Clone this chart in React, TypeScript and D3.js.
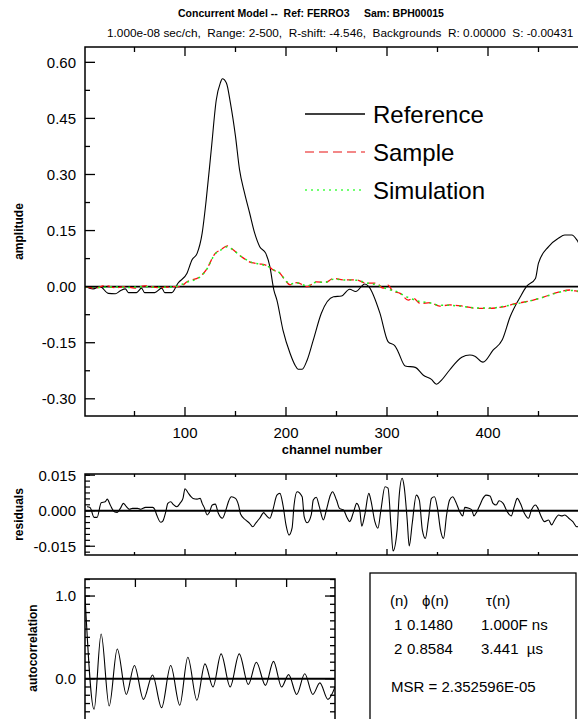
import React from "react";
import * as d3 from "d3";

// ---------- DATA ----------
const refChannels = [2, 9, 16, 24, 31, 36, 41, 44, 52, 57, 60, 70, 77, 80, 87, 93, 102, 107, 112, 117, 121, 126, 131, 135, 137, 141, 145, 150, 154, 159, 164, 169, 174, 180, 184, 188, 191, 197, 204, 209, 212, 216, 221, 227, 235, 247, 255, 263, 269, 278, 282, 293, 301, 308, 311, 318, 328, 336, 344, 349, 354, 362, 374, 382, 387, 395, 405, 414, 422, 432, 438, 447, 450, 460, 470, 476, 483, 488, 493, 500];
const refValues = [0, -0.006, 0, -0.018, -0.019, -0.011, -0.006, -0.016, -0.016, -0.004, -0.016, -0.016, -0.004, -0.016, -0.016, 0.009, 0.036, 0.072, 0.089, 0.143, 0.232, 0.366, 0.5, 0.545, 0.556, 0.545, 0.491, 0.402, 0.313, 0.25, 0.197, 0.143, 0.107, 0.089, 0.054, -0.009, -0.036, -0.116, -0.178, -0.21, -0.221, -0.221, -0.196, -0.143, -0.071, -0.027, -0.025, -0.007, -0.013, 0.007, 0, -0.071, -0.147, -0.159, -0.174, -0.212, -0.216, -0.237, -0.248, -0.261, -0.25, -0.223, -0.189, -0.183, -0.186, -0.202, -0.17, -0.143, -0.08, -0.027, 0, 0.022, 0.063, 0.107, 0.13, 0.138, 0.138, 0.125, 0.1, 0.07];

const samChannels = [2, 11, 21, 31, 41, 50, 60, 75, 90, 95, 102, 115, 121, 130, 135, 142, 148, 156, 166, 174, 183, 187, 194, 199, 204, 211, 221, 230, 239, 247, 257, 270, 278, 290, 296, 301, 306, 313, 321, 326, 333, 343, 352, 362, 375, 389, 402, 415, 428, 442, 455, 468, 481, 489, 500];
const samValues = [0, -0.004, 0.003, -0.003, 0, -0.004, 0.002, -0.003, 0, 0, 0.013, 0.027, 0.045, 0.089, 0.098, 0.109, 0.098, 0.08, 0.064, 0.061, 0.054, 0.045, 0.036, 0.018, 0.005, 0.011, 0, 0.013, 0.011, 0.022, 0.018, 0.018, 0.01, 0.009, -0.004, 0.004, -0.013, -0.018, -0.036, -0.031, -0.045, -0.043, -0.052, -0.049, -0.052, -0.058, -0.058, -0.054, -0.045, -0.038, -0.028, -0.016, -0.009, -0.013, -0.02];

const simChannels = [2, 15, 30, 45, 60, 75, 90, 102, 115, 121, 130, 135, 142, 148, 156, 166, 174, 183, 187, 194, 199, 204, 211, 221, 230, 239, 247, 257, 270, 280, 290, 300, 310, 320, 330, 343, 352, 362, 375, 389, 402, 415, 428, 442, 455, 468, 481, 489, 500];
const simValues = [0, -0.002, -0.001, -0.002, 0, -0.002, 0, 0.012, 0.026, 0.044, 0.088, 0.097, 0.107, 0.097, 0.08, 0.065, 0.06, 0.053, 0.046, 0.036, 0.019, 0.007, 0.01, 0.002, 0.012, 0.012, 0.02, 0.018, 0.017, 0.01, 0.005, -0.006, -0.014, -0.028, -0.038, -0.044, -0.05, -0.05, -0.053, -0.057, -0.057, -0.053, -0.046, -0.038, -0.028, -0.017, -0.01, -0.012, -0.018];

const resChannels = [3, 6, 10, 13, 17, 21, 23, 26, 30, 33, 36, 39, 40, 42, 45, 48, 53, 56, 61, 68, 70, 72, 76, 78, 81, 83, 86, 88, 92, 95, 98, 100, 103, 106, 108, 112, 115, 117, 119, 122, 124, 127, 130, 133, 137, 141, 143, 146, 150, 153, 155, 160, 164, 167, 170, 174, 178, 180, 184, 187, 191, 194, 197, 200, 203, 206, 208, 211, 216, 218, 221, 225, 227, 230, 233, 237, 240, 244, 246, 250, 253, 257, 260, 263, 267, 270, 273, 275, 278, 282, 284, 288, 291, 294, 298, 301, 304, 306, 310, 312, 315, 317, 320, 322, 325, 329, 332, 335, 338, 341, 344, 347, 350, 353, 356, 359, 362, 365, 368, 372, 375, 377, 381, 384, 386, 389, 392, 395, 398, 402, 405, 408, 411, 415, 419, 423, 426, 429, 432, 436, 440, 443, 447, 449, 452, 456, 460, 463, 466, 470, 473, 476, 480, 484, 488, 494, 500];
const resValues = [0.0017, 0.0014, -0.0028, -0.0028, 0.0034, 0.0038, 0.0049, 0.0024, -0.0004, -0.0007, 0.001, 0.0031, 0.0028, 0.0017, 0.0006, 0.001, 0.001, 0.0006, 0.0014, 0.0014, 0.0006, -0.0018, -0.0049, -0.0044, -0.0004, 0.0031, 0.0038, 0.0028, 0.0017, 0.0031, 0.0052, 0.0093, 0.0076, 0.0059, 0.0052, 0.0049, 0.0052, 0.0031, 0.0014, -0.0018, -0.0008, 0.0024, 0.0028, -0.0011, -0.0032, 0.001, 0.0038, 0.0059, 0.0052, 0.0024, -0.0014, -0.0039, -0.0053, -0.0068, -0.0053, -0.0032, -0.0008, -0.0018, -0.0032, 0.0003, 0.0066, 0.0073, 0.0024, -0.006, -0.0103, -0.0074, 0.0024, 0.008, 0.0059, -0.0025, -0.0051, -0.0018, 0.0045, 0.0057, 0.0017, -0.0039, 0.0003, 0.0066, 0.008, 0.0045, 0.001, 0.0003, -0.0025, -0.0046, -0.0004, 0.0031, 0.0003, -0.0065, -0.0018, 0.0073, 0.0045, -0.0046, -0.0074, 0.0003, 0.0101, 0.0095, -0.0068, -0.017, -0.0082, 0.0059, 0.0137, 0.0101, -0.0039, -0.0149, -0.0053, 0.0066, 0.0045, -0.0082, -0.0117, -0.0039, 0.0052, 0.0059, 0.001, -0.0082, -0.0117, -0.0018, 0.0045, 0.0059, 0.0038, -0.0004, -0.0022, 0.0014, 0.001, 0.0003, -0.0022, -0.0004, 0.0024, 0.0052, 0.0066, 0.0062, 0.0031, 0.0024, 0.0042, 0.0031, -0.0004, -0.0022, 0.0017, 0.0052, 0.0031, -0.0011, -0.0032, 0.0003, 0.0024, 0.0014, -0.0018, -0.0046, -0.0039, -0.006, -0.0039, -0.0018, -0.0022, -0.0018, -0.0032, -0.0046, -0.0068, -0.006, -0.007];

const acLags = [0, 9, 16, 24, 32, 41, 49, 58, 67, 76, 85, 94, 102, 111, 119, 127, 135, 144, 153, 162, 170, 179, 187, 195, 202, 210, 218, 226, 233, 241, 248];
const acValues = [1.0, -0.37, 0.54, -0.33, 0.36, -0.19, 0.16, -0.25, 0.045, -0.35, 0.16, -0.32, 0.26, -0.26, 0.18, -0.1, 0.3, -0.1, 0.3, -0.07, 0.2, -0.08, 0.21, -0.1, 0.05, -0.19, 0.06, -0.19, -0.05, -0.25, -0.1];

const mainYTicks = [-0.3, -0.15, 0, 0.15, 0.3, 0.45, 0.6];
const mainYLabels = ["-0.30", "-0.15", "0.00", "0.15", "0.30", "0.45", "0.60"];
const xTicks = [100, 200, 300, 400, 500];
const xTickLabels = ["100", "200", "300", "400"];
const xMinorTicks = [50, 150, 250, 350, 450];
const resYTicks = [-0.015, 0, 0.015];
const resYLabels = ["-0.015", "0.000", "0.015"];
const acYTicks = [0, 1.0];
const acYLabels = ["0.0", "1.0"];
const acXTicks = [50, 100, 150, 200];

const legendItems = ["Reference", "Sample", "Simulation"];
const titleLeft = "Concurrent Model --  Ref: FERRO3";
const titleRight = "Sam: BPH00015";
const subtitleText = "1.000e-08 sec/ch,  Range: 2-500,  R-shift: -4.546,  Backgrounds  R: 0.00000  S: -0.00431";
const tableHeader = ["(n)", "\u03d5(n)", "\u03c4(n)"];
const tableRows = [["1", "0.1480", "1.000F ns"], ["2", "0.8584", "3.441  \u00b5s"]];
const msrText = "MSR = 2.352596E-05";

// ---------- LAYOUT ----------
const FONT = "'Liberation Sans', Arial, Helvetica, sans-serif";
const W = 578, H = 719;
const L = 85, R = 589;
const main = { top: 47, bottom: 416 };
const res = { top: 474, bottom: 555 };
const ac = { left: 85, right: 335, top: 579, bottom: 740 };

export default function App() {
  const x = d3.scaleLinear().domain([1, 500]).range([L, R]);
  const y = d3.scaleLinear().domain([-0.346, 0.641]).range([main.bottom, main.top]);
  const yr = d3.scaleLinear().domain([-0.0187, 0.0155]).range([res.bottom, res.top]);
  const xa = d3.scaleLinear().domain([0, 248]).range([ac.left, ac.right]);
  const ya = d3.scaleLinear().domain([-0.741, 1.206]).range([ac.bottom, ac.top]);

  const lineMain = (xs: number[], vs: number[]) =>
    d3.line<number>().x((_, i) => x(xs[i])).y((v) => y(v)).curve(d3.curveMonotoneX)(vs) || "";
  const resPath = d3.line<number>().x((_, i) => x(resChannels[i])).y((v) => yr(v)).curve(d3.curveMonotoneX)(resValues) || "";
  const acPath = d3.line<number>().x((_, i) => xa(acLags[i])).y((v) => ya(v)).curve(d3.curveMonotoneX)(acValues) || "";

  const mainMinorY = d3.range(-0.3, 0.65, 0.075).filter((v) => Math.abs(Math.round(v / 0.15) * 0.15 - v) > 0.01);
  const resMinorY = d3.range(-0.0175, 0.0155, 0.0025);
  const acMinorY = d3.range(-0.7, 1.21, 0.1);

  const frameStyle = { fill: "none", stroke: "#000", strokeWidth: 1.5 };

  const xTickMarks = (top: number, bottom: number, major: number, minor: number) => (
    <g stroke="#000" strokeWidth={1.3}>
      {xTicks.map((t) => (
        <g key={"M" + t}>
          <line x1={x(t)} x2={x(t)} y1={top} y2={top + major} />
          <line x1={x(t)} x2={x(t)} y1={bottom} y2={bottom - major} />
        </g>
      ))}
      {xMinorTicks.map((t) => (
        <g key={"m" + t}>
          <line x1={x(t)} x2={x(t)} y1={top} y2={top + minor} />
          <line x1={x(t)} x2={x(t)} y1={bottom} y2={bottom - minor} />
        </g>
      ))}
    </g>
  );

  const clipId = "mainclip";

  return (
    <svg width={W} height={H} style={{ position: "absolute", left: 0, top: 0, background: "#fff" }} fontFamily={FONT}>
      <defs>
        <clipPath id={clipId}><rect x={L} y={main.top} width={R - L} height={main.bottom - main.top} /></clipPath>
        <clipPath id="resclip"><rect x={L} y={res.top} width={R - L} height={res.bottom - res.top} /></clipPath>
        <clipPath id="acclip"><rect x={ac.left} y={ac.top} width={ac.right - ac.left} height={ac.bottom - ac.top} /></clipPath>
      </defs>
      <rect x={0} y={0} width={W} height={H} fill="#fff" />

      {/* Titles */}
      <text x={178} y={17} fontSize={10.5} fontWeight="bold" style={{ whiteSpace: "pre" }}>{titleLeft}</text>
      <text x={364} y={17} fontSize={10.5} fontWeight="bold" style={{ whiteSpace: "pre" }}>{titleRight}</text>
      <text x={107} y={37} fontSize={11.8} style={{ whiteSpace: "pre" }}>{subtitleText}</text>

      {/* ---------- Main panel ---------- */}
      <g clipPath={`url(#${clipId})`}>
        <line x1={L} x2={R} y1={y(0)} y2={y(0)} stroke="#000" strokeWidth={1.8} />
        <path d={lineMain(refChannels, refValues)} fill="none" stroke="#000" strokeWidth={1.1} />
        <path d={lineMain(samChannels, samValues)} fill="none" stroke="#ff1010" strokeWidth={1.3} strokeDasharray="7,4" />
        <path d={lineMain(simChannels, simValues)} fill="none" stroke="#22ee22" strokeWidth={1.5} strokeDasharray="2,4" />
      </g>
      <rect x={L} y={main.top} width={R - L} height={main.bottom - main.top} style={frameStyle} />
      {xTickMarks(main.top, main.bottom, 9, 5)}
      <g stroke="#000" strokeWidth={1.3}>
        {mainYTicks.map((t) => (
          <g key={t}>
            <line x1={L} x2={L + 10} y1={y(t)} y2={y(t)} />
            <line x1={R} x2={R - 10} y1={y(t)} y2={y(t)} />
          </g>
        ))}
        {mainMinorY.map((t) => (
          <g key={"mm" + t}>
            <line x1={L} x2={L + 5} y1={y(t)} y2={y(t)} />
            <line x1={R} x2={R - 5} y1={y(t)} y2={y(t)} />
          </g>
        ))}
      </g>
      {mainYTicks.map((t, i) => (
        <text key={"yl" + t} x={76} y={y(t)} dy="0.36em" textAnchor="end" fontSize={15}>{mainYLabels[i]}</text>
      ))}
      {xTickLabels.map((t, i) => (
        <text key={"xl" + t} x={x(xTicks[i])} y={438} textAnchor="middle" fontSize={15}>{t}</text>
      ))}
      <text x={332} y={454} textAnchor="middle" fontSize={13} fontWeight="bold">channel number</text>
      <text transform={`translate(23,${(main.top + main.bottom) / 2}) rotate(-90)`} textAnchor="middle" fontSize={12} fontWeight="bold">amplitude</text>

      {/* Legend */}
      {legendItems.map((name, i) => {
        const ly = 114 + i * 38;
        const stroke = i === 0 ? "#000" : i === 1 ? "#f06060" : "#44ff44";
        const dash = i === 0 ? undefined : i === 1 ? "9,5" : "2,4";
        return (
          <g key={name}>
            <line x1={305} x2={365} y1={ly} y2={ly} stroke={stroke} strokeWidth={1.3} strokeDasharray={dash} />
            <text x={373} y={ly} dy="0.36em" fontSize={24}>{name}</text>
          </g>
        );
      })}

      {/* ---------- Residuals ---------- */}
      <g clipPath="url(#resclip)">
        <line x1={L} x2={R} y1={yr(0)} y2={yr(0)} stroke="#000" strokeWidth={2} />
        <path d={resPath} fill="none" stroke="#000" strokeWidth={1.1} />
      </g>
      <rect x={L} y={res.top} width={R - L} height={res.bottom - res.top} style={frameStyle} />
      {xTickMarks(res.top, res.bottom, 6, 3)}
      <g stroke="#000" strokeWidth={1.2}>
        {resYTicks.map((t) => (
          <g key={t}>
            <line x1={L} x2={L + 10} y1={yr(t)} y2={yr(t)} />
            <line x1={R} x2={R - 10} y1={yr(t)} y2={yr(t)} />
          </g>
        ))}
        {resMinorY.map((t) => (
          <g key={"rm" + t}>
            <line x1={L} x2={L + 5} y1={yr(t)} y2={yr(t)} />
            <line x1={R} x2={R - 5} y1={yr(t)} y2={yr(t)} />
          </g>
        ))}
      </g>
      {resYTicks.map((t, i) => (
        <text key={"ryl" + t} x={76} y={yr(t)} dy="0.36em" textAnchor="end" fontSize={15}>{resYLabels[i]}</text>
      ))}
      <text transform={`translate(23,${(res.top + res.bottom) / 2}) rotate(-90)`} textAnchor="middle" fontSize={12} fontWeight="bold">residuals</text>

      {/* ---------- Autocorrelation ---------- */}
      <g clipPath="url(#acclip)">
        <line x1={ac.left} x2={ac.right} y1={ya(0)} y2={ya(0)} stroke="#000" strokeWidth={2} />
        <path d={acPath} fill="none" stroke="#000" strokeWidth={1.1} />
      </g>
      <rect x={ac.left} y={ac.top} width={ac.right - ac.left} height={ac.bottom - ac.top} style={frameStyle} />
      <g stroke="#000" strokeWidth={1.3}>
        {acXTicks.map((t) => (
          <line key={t} x1={xa(t)} x2={xa(t)} y1={ac.top} y2={ac.top + 8} />
        ))}
        {acYTicks.map((t) => (
          <g key={t}>
            <line x1={ac.left} x2={ac.left + 10} y1={ya(t)} y2={ya(t)} />
            <line x1={ac.right} x2={ac.right - 10} y1={ya(t)} y2={ya(t)} />
          </g>
        ))}
        {acMinorY.map((t) => (
          <g key={"am" + t}>
            <line x1={ac.left} x2={ac.left + 5} y1={ya(t)} y2={ya(t)} />
            <line x1={ac.right} x2={ac.right - 5} y1={ya(t)} y2={ya(t)} />
          </g>
        ))}
      </g>
      {acYTicks.map((t, i) => (
        <text key={"ayl" + t} x={76} y={ya(t)} dy="0.36em" textAnchor="end" fontSize={15}>{acYLabels[i]}</text>
      ))}
      <text transform={`translate(37,648) rotate(-90)`} textAnchor="middle" fontSize={12} fontWeight="bold">autocorrelation</text>

      {/* ---------- Stats box ---------- */}
      <rect x={370} y={573} width={206} height={170} fill="none" stroke="#000" strokeWidth={1.3} />
      <g fontSize={15}>
        <text x={390} y={606}>{tableHeader[0]}</text>
        <text x={422} y={606}>{tableHeader[1]}</text>
        <text x={486} y={606}>{tableHeader[2]}</text>
        {tableRows.map((r, i) => (
          <g key={i}>
            <text x={394} y={630 + i * 24}>{r[0]}</text>
            <text x={407} y={630 + i * 24}>{r[1]}</text>
            <text x={481} y={630 + i * 24} style={{ whiteSpace: "pre" }}>{r[2]}</text>
          </g>
        ))}
        <text x={391} y={692}>{msrText}</text>
      </g>
    </svg>
  );
}
